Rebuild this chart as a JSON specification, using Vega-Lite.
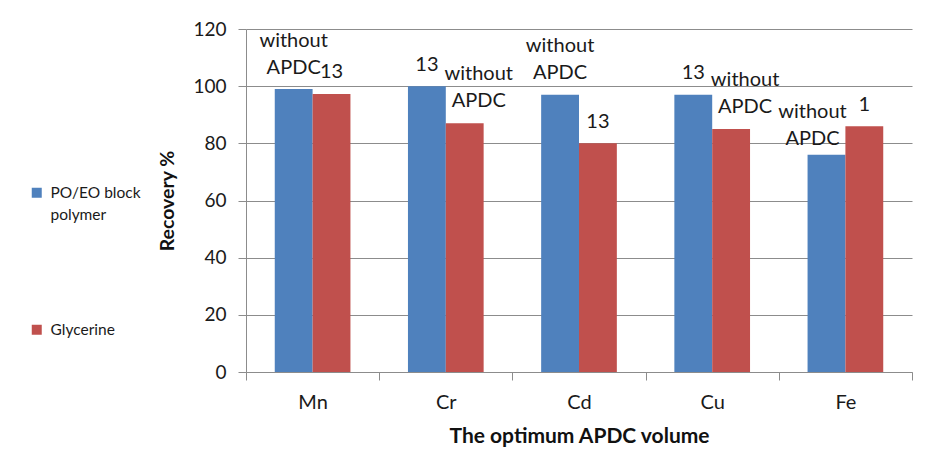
{
  "$schema": "https://vega.github.io/schema/vega-lite/v6.json",
  "width": 666,
  "height": 343,
  "autosize": {"type": "none"},
  "padding": {"left": 246, "top": 29, "right": 20, "bottom": 98},
  "background": "white",
  "config": {
    "font": "Lato",
    "view": {"stroke": null},
    "text": {"fontSize": 20, "color": "#1a1a1a", "baseline": "alphabetic", "lineBreak": " ", "lineHeight": 27}
  },
  "data": {
    "values": [
      {"element": "Mn", "series": "PO/EO block polymer", "recovery": 99, "label": "without APDC"},
      {"element": "Mn", "series": "Glycerine", "recovery": 97.3, "label": "13"},
      {"element": "Cr", "series": "PO/EO block polymer", "recovery": 100, "label": "13"},
      {"element": "Cr", "series": "Glycerine", "recovery": 87, "label": "without APDC"},
      {"element": "Cd", "series": "PO/EO block polymer", "recovery": 97, "label": "without APDC"},
      {"element": "Cd", "series": "Glycerine", "recovery": 80, "label": "13"},
      {"element": "Cu", "series": "PO/EO block polymer", "recovery": 97, "label": "13"},
      {"element": "Cu", "series": "Glycerine", "recovery": 85, "label": "without APDC"},
      {"element": "Fe", "series": "PO/EO block polymer", "recovery": 76, "label": "without APDC"},
      {"element": "Fe", "series": "Glycerine", "recovery": 86, "label": "1"}
    ]
  },
  "encoding": {
    "x": {
      "field": "element",
      "type": "nominal",
      "sort": null,
      "scale": {"paddingInner": 0, "paddingOuter": 0},
      "axis": {
        "title": "The optimum APDC volume",
        "titleFontSize": 21,
        "titleFontWeight": "bold",
        "titleColor": "#111111",
        "titleY": 64,
        "titleBaseline": "middle",
        "labelAngle": 0,
        "labelFontSize": 20,
        "labelColor": "#1a1a1a",
        "labelPadding": 12,
        "tickSize": 8,
        "tickBand": "extent",
        "tickColor": "#8c8c8c",
        "domainColor": "#8c8c8c",
        "grid": false
      }
    },
    "xOffset": {
      "field": "series",
      "type": "nominal",
      "sort": ["PO/EO block polymer", "Glycerine"],
      "scale": {"paddingInner": 0, "paddingOuter": 0.76}
    },
    "y": {
      "field": "recovery",
      "type": "quantitative",
      "scale": {"domain": [0, 120]},
      "axis": {
        "values": [0, 20, 40, 60, 80, 100, 120],
        "title": "Recovery %",
        "titleFontSize": 19.5,
        "titleFontWeight": "bold",
        "titleColor": "#111111",
        "titlePadding": 15,
        "labelFontSize": 19,
        "labelColor": "#1a1a1a",
        "labelPadding": 12,
        "tickSize": 8,
        "tickColor": "#8c8c8c",
        "domainColor": "#8c8c8c",
        "grid": true,
        "gridColor": "#8c8c8c"
      }
    }
  },
  "layer": [
    {
      "mark": {"type": "bar"},
      "encoding": {
        "color": {
          "field": "series",
          "type": "nominal",
          "sort": ["PO/EO block polymer", "Glycerine"],
          "scale": {"domain": ["PO/EO block polymer", "Glycerine"], "range": ["#4F81BD", "#C0504D"]},
          "legend": {
            "title": null,
            "orient": "none",
            "legendX": -217,
            "legendY": 156,
            "symbolType": "square",
            "symbolSize": 100,
            "symbolStrokeWidth": 0,
            "labelFontSize": 15.5,
            "labelColor": "#1a1a1a",
            "labelOffset": 6,
            "rowPadding": 98,
            "labelExpr": "datum.label == 'PO/EO block polymer' ? ['PO/EO block', 'polymer'] : datum.label",
            "encode": {"labels": {"update": {"lineHeight": {"value": 22}}}}
          }
        }
      }
    },
    {
      "transform": [{"filter": "indexof(datum.label, ' ') < 0"}],
      "mark": {"type": "text", "dy": -15.5},
      "encoding": {"text": {"field": "label"}}
    },
    {
      "transform": [{"filter": "indexof(datum.label, ' ') >= 0 && datum.series == 'PO/EO block polymer' && datum.element != 'Fe'"}],
      "mark": {"type": "text", "dy": -42.5},
      "encoding": {"text": {"field": "label"}}
    },
    {
      "transform": [{"filter": "indexof(datum.label, ' ') >= 0 && datum.series == 'PO/EO block polymer' && datum.element == 'Fe'"}],
      "mark": {"type": "text", "dy": -36.5, "dx": -14},
      "encoding": {"text": {"field": "label"}}
    },
    {
      "transform": [{"filter": "indexof(datum.label, ' ') >= 0 && datum.series == 'Glycerine'"}],
      "mark": {"type": "text", "dy": -43, "dx": 14},
      "encoding": {"text": {"field": "label"}}
    }
  ]
}
